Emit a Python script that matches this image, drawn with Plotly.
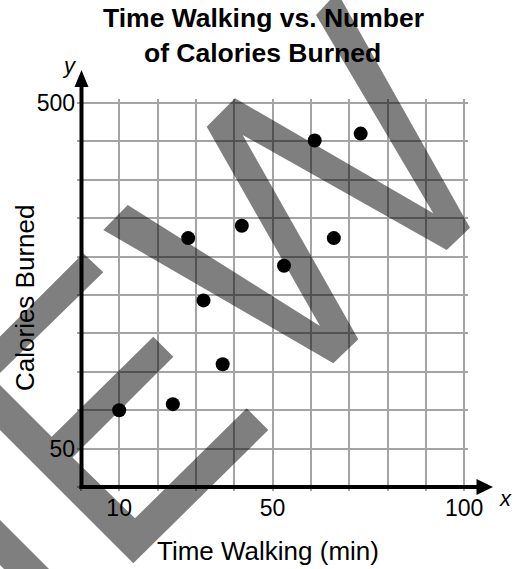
import plotly.graph_objects as go

# ---------------- data ----------------
time_min = [10, 24, 37, 32, 28, 42, 53, 66, 61, 73]
calories = [100, 108, 160, 243, 324, 340, 288, 324, 451, 460]

x_tick_vals = [10, 50, 100]
x_tick_text = ["10", "50", "100"]
y_tick_vals = [50, 500]
y_tick_text = ["50", "500"]

title_line1 = "Time Walking vs. Number"
title_line2 = "of Calories Burned"
x_title = "Time Walking (min)"
y_title = "Calories Burned"

# ---------------- layout geometry ----------------
W, H = 517, 569
ML, MR, MT, MB = 77, 49, 99, 78
PW, PH = W - ML - MR, H - MT - MB
FONT = "Arial, 'Liberation Sans', sans-serif"
GRID = "#a4a4a4"


def px(xp):
    return (xp - ML) / PW


def py(yp):
    return (H - MB - yp) / PH


def poly(points):
    d = "M " + " L ".join(f"{px(a):.5f},{py(b):.5f}" for a, b in points) + " Z"
    return d


fig = go.Figure(
    go.Scatter(
        x=time_min, y=calories, mode="markers",
        marker=dict(color="black", size=14),
        cliponaxis=False, showlegend=False, hoverinfo="skip",
    )
)

shapes = []
# axis lines with arrows
shapes.append(dict(type="line", xref="paper", yref="paper",
                   x0=px(81.5), y0=py(489), x1=px(81.5), y1=py(84),
                   line=dict(color="black", width=4), layer="above"))
shapes.append(dict(type="path", xref="paper", yref="paper",
                   path=poly([(81.5, 70), (74.5, 87), (88.5, 87)]),
                   fillcolor="black", line=dict(width=0), layer="above"))
shapes.append(dict(type="line", xref="paper", yref="paper",
                   x0=px(79.5), y0=py(487), x1=px(479), y1=py(487),
                   line=dict(color="black", width=4), layer="above"))
shapes.append(dict(type="path", xref="paper", yref="paper",
                   path=poly([(493, 487), (476.5, 479), (476.5, 495)]),
                   fillcolor="black", line=dict(width=0), layer="above"))

# grey watermark bands
band_polys = [
    [(127.7, 205), (320, 326), (206.7, 126.7), (235, 98.3), (433.3, 213.3),
     (316, 15), (337.3, -7.8), (470, 227.7), (446.7, 250), (242.7, 135),
     (358.3, 339.3), (333.3, 363.3), (103.3, 230)],
    [(-60, 325), (51.7, 436.7), (153.3, 336.7), (173.3, 356.7), (72.5, 457.5),
     (135, 518.3), (246.7, 408.3), (268.3, 430), (133.3, 563.3), (-60, 370)],
    [(83.3, 253.3), (103.3, 272.3), (-60, 431.5), (-60, 396.6)],
    [(-60, 460), (110, 630), (110, 675), (-60, 505)],
]
for p in band_polys:
    shapes.append(dict(type="path", xref="paper", yref="paper", path=poly(p),
                       fillcolor="rgba(0,0,0,0.5)", line=dict(width=0),
                       layer="above"))

annotations = [
    dict(text=f"<b>{title_line1}</b>", x=px(263.4), y=py(18.2), xref="paper", yref="paper",
         showarrow=False, xanchor="center", yanchor="middle",
         font=dict(family=FONT, size=26.5, color="black")),
    dict(text=f"<b>{title_line2}</b>", x=px(262.5), y=py(53.5), xref="paper", yref="paper",
         showarrow=False, xanchor="center", yanchor="middle",
         font=dict(family=FONT, size=26.5, color="black")),
    dict(text=x_title, x=px(267.5), y=py(551), xref="paper", yref="paper",
         showarrow=False, xanchor="center", yanchor="middle",
         font=dict(family=FONT, size=26, color="black")),
    dict(text=y_title, x=px(25), y=py(298), xref="paper", yref="paper",
         showarrow=False, xanchor="center", yanchor="middle", textangle=-90,
         font=dict(family=FONT, size=26, color="black")),
    dict(text="<i>x</i>", x=px(505), y=py(498), xref="paper", yref="paper",
         showarrow=False, xanchor="center", yanchor="middle",
         font=dict(family=FONT, size=22, color="black")),
    dict(text="<i>y</i>", x=px(69), y=py(65.5), xref="paper", yref="paper",
         showarrow=False, xanchor="center", yanchor="middle",
         font=dict(family=FONT, size=22, color="black")),
]

fig.update_layout(
    width=W, height=H,
    margin=dict(l=ML, r=MR, t=MT, b=MB, pad=0),
    paper_bgcolor="white", plot_bgcolor="white",
    showlegend=False,
    shapes=shapes,
    annotations=annotations,
    xaxis=dict(
        range=[-1, 101], tickmode="array", tickvals=x_tick_vals, ticktext=x_tick_text,
        showgrid=True, gridcolor=GRID, gridwidth=2,
        minor=dict(tick0=0, dtick=10, showgrid=True, gridcolor=GRID, gridwidth=2),
        zeroline=False, showline=False, ticks="", ticklabelstandoff=1,
        tickfont=dict(family=FONT, size=23, color="black"), fixedrange=True,
    ),
    yaxis=dict(
        range=[-5, 505], tickmode="array", tickvals=y_tick_vals, ticktext=y_tick_text,
        showgrid=True, gridcolor=GRID, gridwidth=2,
        minor=dict(tick0=0, dtick=50, showgrid=True, gridcolor=GRID, gridwidth=2),
        zeroline=False, showline=False, ticks="", ticklabelstandoff=1,
        tickfont=dict(family=FONT, size=23, color="black"), fixedrange=True,
    ),
)

fig.write_html(
    "out.html",
    config={"displayModeBar": False, "staticPlot": True},
    post_script="document.body.style.margin='0';document.body.style.overflow='hidden';",
)
